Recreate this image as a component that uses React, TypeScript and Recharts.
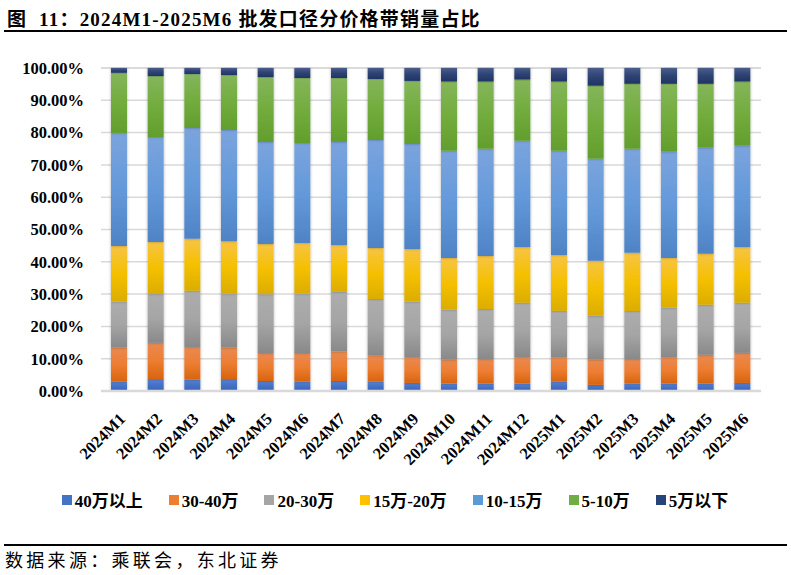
import React from "react";
import { BarChart, Bar, XAxis, YAxis, CartesianGrid, Legend } from "recharts";

const categories = [
  "2024M1", "2024M2", "2024M3", "2024M4", "2024M5", "2024M6", "2024M7", "2024M8", "2024M9",
  "2024M10", "2024M11", "2024M12", "2025M1", "2025M2", "2025M3", "2025M4", "2025M5", "2025M6",
];

const s40plus = [2.9, 3.7, 3.5, 3.7, 3.1, 2.9, 3.1, 2.9, 2.5, 2.3, 2.3, 2.3, 2.9, 1.9, 2.3, 2.3, 2.3, 2.5];
const s30to40 = [10.5, 11.2, 10.1, 9.7, 8.7, 8.9, 9.1, 8.2, 8.0, 7.4, 7.6, 8.2, 7.6, 7.8, 7.6, 8.2, 8.9, 9.3];
const s20to30 = [14.3, 15.1, 17.4, 16.8, 18.2, 18.4, 18.5, 17.4, 17.2, 15.5, 15.5, 16.8, 14.3, 13.6, 14.9, 15.3, 15.5, 15.5];
const s15to20 = [17.2, 16.1, 16.1, 16.2, 15.5, 15.6, 14.5, 15.8, 16.3, 16.0, 16.4, 17.3, 17.3, 17.0, 18.0, 15.4, 15.8, 17.3];
const s10to15 = [35.0, 32.5, 34.3, 34.4, 31.6, 31.0, 31.9, 33.4, 32.5, 33.2, 33.2, 32.9, 32.3, 31.6, 32.2, 32.9, 32.8, 31.3];
const s5to10 = [18.6, 18.9, 16.7, 17.0, 20.1, 20.1, 19.8, 18.9, 19.5, 21.4, 20.8, 18.9, 21.4, 22.6, 20.1, 21.0, 19.8, 19.9];
const s5minus = [1.5, 2.5, 1.9, 2.2, 2.8, 3.1, 3.1, 3.4, 4.0, 4.2, 4.2, 3.6, 4.2, 5.5, 4.9, 4.9, 4.9, 4.2];

const yTicks = [0, 10, 20, 30, 40, 50, 60, 70, 80, 90, 100];

const seriesDefs = [
  { key: "a", name: "40万以上", values: s40plus, top: "#5B7FD3", mid: "#4472C4", bottom: "#3F63BE", legend: "#4472C4" },
  { key: "b", name: "30-40万", values: s30to40, top: "#E98A52", mid: "#ED7D31", bottom: "#D7640F", legend: "#ED7D31" },
  { key: "c", name: "20-30万", values: s20to30, top: "#ADADAD", mid: "#A5A5A5", bottom: "#898989", legend: "#A5A5A5" },
  { key: "d", name: "15万-20万", values: s15to20, top: "#F6C445", mid: "#F5C000", bottom: "#DBAD00", legend: "#FFC000" },
  { key: "e", name: "10-15万", values: s10to15, top: "#7BA4DD", mid: "#6499DA", bottom: "#4E83C5", legend: "#5B9BD5" },
  { key: "f", name: "5-10万", values: s5to10, top: "#85B55B", mid: "#72AC3D", bottom: "#629E2D", legend: "#70AD47" },
  { key: "g", name: "5万以下", values: s5minus, top: "#4A5D8C", mid: "#2E4373", bottom: "#1F3466", legend: "#264478" },
];

const data = categories.map((c, i) => {
  const row: Record<string, string | number> = { name: c };
  seriesDefs.forEach((s) => {
    row[s.key] = s.values[i];
  });
  return row;
});

const serif = '"Liberation Serif", "Times New Roman", "Noto Sans CJK SC", serif';

const XTick = (props: any) => {
  const { x, y, payload } = props;
  return (
    <g transform={`translate(${x + 7},${y + 29})`}>
      <text
        x={0}
        y={0}
        textAnchor="end"
        transform="rotate(-45)"
        fontFamily={serif}
        fontWeight="bold"
        fontSize={16.5}
        fill="#000"
      >
        {payload.value}
      </text>
    </g>
  );
};

const LegendContent = () => (
  <div
    style={{
      display: "flex",
      justifyContent: "center",
      alignItems: "center",
      gap: 26,
      fontFamily: serif,
      fontWeight: "bold",
      fontSize: 17,
      color: "#000",
      paddingLeft: 29,
    }}
  >
    {seriesDefs.map((s) => (
      <div key={s.key} style={{ display: "flex", alignItems: "center" }}>
        <span style={{ display: "inline-block", width: 10, height: 10, background: s.legend, marginRight: 3 }} />
        <span>{s.name}</span>
      </div>
    ))}
  </div>
);

export default function App() {
  return (
    <div style={{ position: "absolute", left: 0, top: 0, width: 791, height: 575, background: "#fff", overflow: "hidden" }}>
      <div
        style={{
          position: "absolute",
          left: 7,
          top: 4,
          fontFamily: serif,
          fontWeight: "bold",
          fontSize: 19,
          letterSpacing: 1.2,
          whiteSpace: "nowrap",
          color: "#000",
        }}
      >
        图&nbsp;&nbsp;11：2024M1-2025M6 批发口径分价格带销量占比
      </div>
      <div style={{ position: "absolute", left: 4, top: 30, width: 783, height: 1.5, background: "#000" }} />
      <BarChart
        width={791}
        height={575}
        data={data}
        margin={{ top: 68, right: 30, left: 0, bottom: 68 }}
        barSize={16}
      >
        <defs>
          {seriesDefs.map((s) => (
            <linearGradient key={s.key} id={`grad-${s.key}`} x1="0" y1="0" x2="0" y2="1">
              <stop offset="0%" stopColor={s.top} />
              <stop offset="50%" stopColor={s.mid} />
              <stop offset="100%" stopColor={s.bottom} />
            </linearGradient>
          ))}
          <filter id="barShadow" x="-30%" y="-5%" width="160%" height="110%">
            <feDropShadow dx="0" dy="0" stdDeviation="1.6" floodColor="#000" floodOpacity="0.3" />
          </filter>
        </defs>
        <CartesianGrid vertical={false} stroke="#d9d9d9" strokeWidth={1.5} />
        <XAxis
          dataKey="name"
          interval={0}
          tickLine={false}
          tickSize={0}
          tickMargin={0}
          axisLine={{ stroke: "#d9d9d9", strokeWidth: 2.5 }}
          height={96}
          tick={<XTick />}
        />
        <YAxis
          domain={[0, 100]}
          ticks={yTicks}
          width={101}
          axisLine={false}
          tickLine={false}
          tickSize={0}
          tickMargin={17}
          tickFormatter={(v: number) => `${v.toFixed(2)}%`}
          tick={{ fontFamily: serif, fontWeight: "bold", fontSize: 16.5, fill: "#000" }}
        />
        <Legend verticalAlign="bottom" height={20} content={<LegendContent />} />
        {seriesDefs.map((s) => (
          <Bar
            key={s.key}
            dataKey={s.key}
            name={s.name}
            stackId="1"
            fill={`url(#grad-${s.key})`}
            filter="url(#barShadow)"
            isAnimationActive={false}
          />
        ))}
      </BarChart>
      <div style={{ position: "absolute", left: 4, top: 544, width: 783, height: 1.5, background: "#000" }} />
      <div
        style={{
          position: "absolute",
          left: 5,
          top: 546,
          fontFamily: '"Noto Sans CJK SC", sans-serif',
          fontSize: 18,
          letterSpacing: 3.3,
          color: "#000",
          whiteSpace: "nowrap",
        }}
      >
        数据来源：乘联会，东北证券
      </div>
    </div>
  );
}
